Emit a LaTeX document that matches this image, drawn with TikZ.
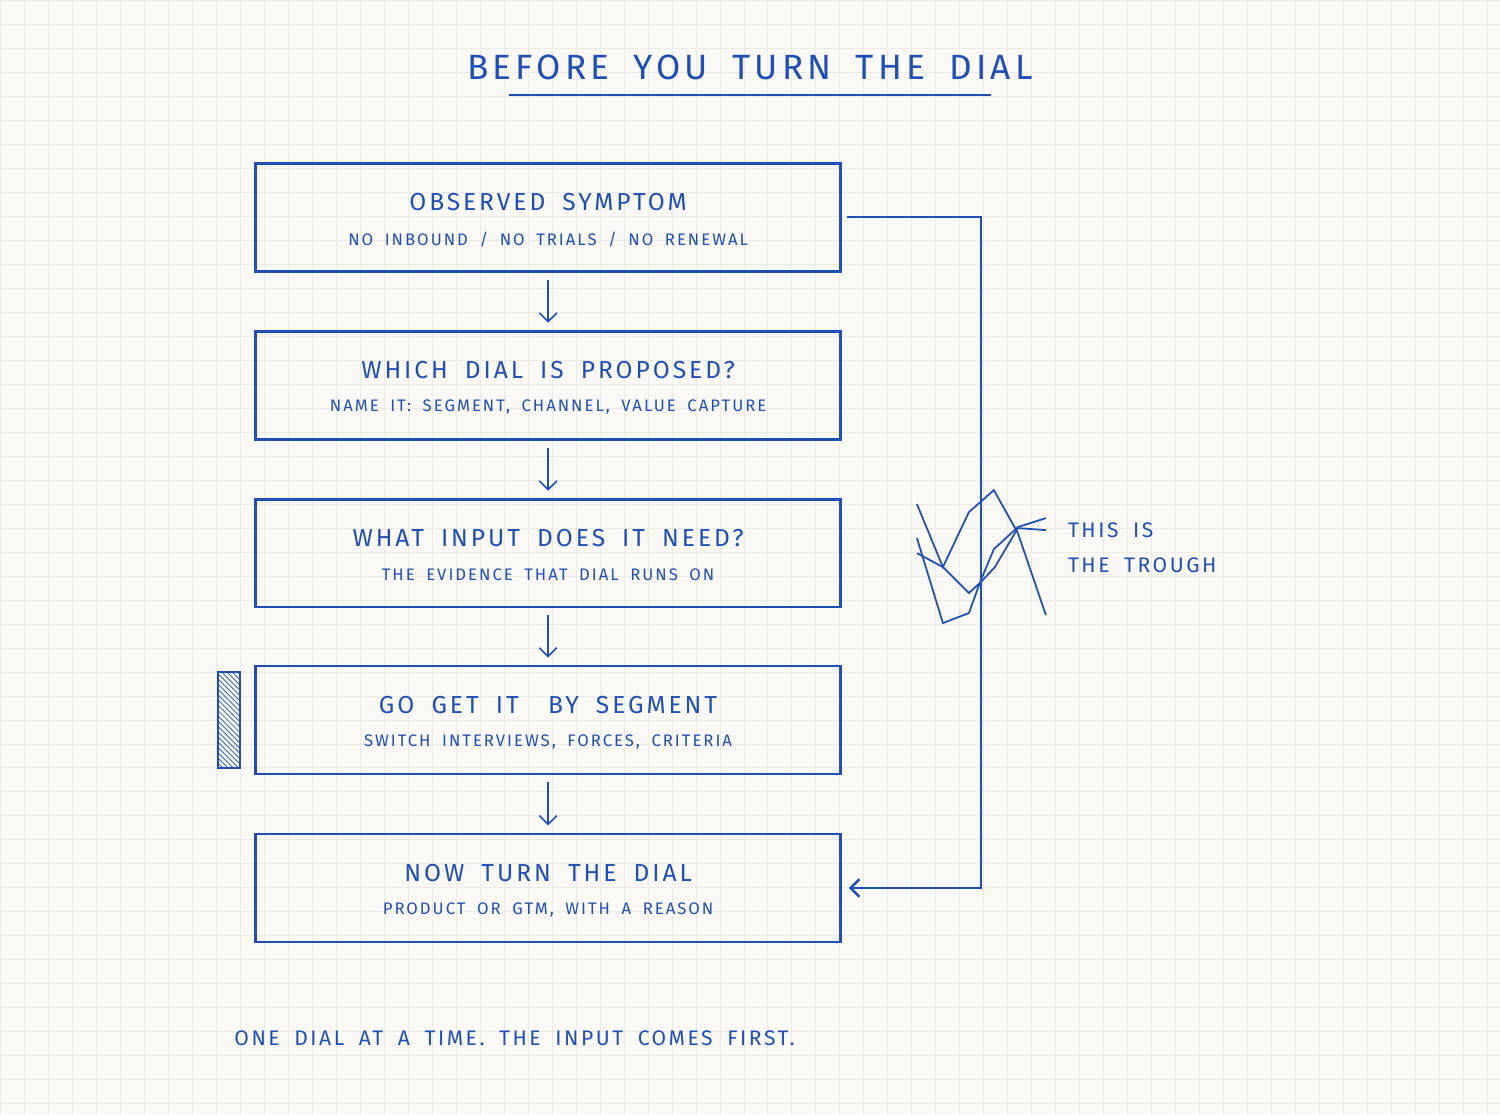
\documentclass[tikz,border=0pt]{standalone}
\usepackage{fontspec}
\setmainfont{Fira Sans}[LetterSpace=12, WordSpace=1.8]
\usetikzlibrary{patterns}
\definecolor{ink}{HTML}{1F4FB5}
\definecolor{paper}{HTML}{FAF9F5}
\definecolor{gridc}{HTML}{ECEAE4}
\tikzset{
  step box/.style={draw=ink, line width=1.6pt, minimum width=11.7cm, minimum height=2.16cm, inner sep=0pt},
  head/.style={text=ink, font=\fontsize{14}{16}\selectfont},
  sub/.style={text=ink, font=\fontsize{9.5}{11}\selectfont},
  flow/.style={draw=ink, line width=0.9pt, -{Straight Barb[length=5pt]}},
}
\usetikzlibrary{arrows.meta}
\begin{document}
\begin{tikzpicture}[x=0.02cm, y=-0.02cm]
%background
\fill[paper] (0,0) rectangle (1500,1114);
\draw[gridc, line width=0.4pt, step=0.48cm] (0,0) grid (1500,1114);
\useasboundingbox (0,0) rectangle (1500,1114);

%title
\node[text=ink, font=\fontsize{20}{24}\selectfont] (title) at (750,67) {BEFORE YOU TURN THE DIAL};
\draw[ink, line width=1.2pt] (509,95) -- (991,95);

%steps
\def\stepnode#1#2#3#4{\node[step box] (#1) at (548,#2) {};
  \node[head] at (548,#2-15) {#3};
  \node[sub] at (548,#2+22) {#4};}
\stepnode{symptom}{217}{OBSERVED SYMPTOM}{NO INBOUND / NO TRIALS / NO RENEWAL}
\stepnode{dial}{385}{WHICH DIAL IS PROPOSED?}{NAME IT: SEGMENT, CHANNEL, VALUE CAPTURE}
\stepnode{input}{553}{WHAT INPUT DOES IT NEED?}{THE EVIDENCE THAT DIAL RUNS ON}
\stepnode{getit}{720}{GO GET IT \enspace BY SEGMENT}{SWITCH INTERVIEWS, FORCES, CRITERIA}
\stepnode{turn}{888}{NOW TURN THE DIAL}{PRODUCT OR GTM, WITH A REASON}

\draw[flow] ([yshift=-4pt]symptom.south) -- ([yshift=4pt]dial.north);
\draw[flow] ([yshift=-4pt]dial.south) -- ([yshift=4pt]input.north);
\draw[flow] ([yshift=-4pt]input.south) -- ([yshift=4pt]getit.north);
\draw[flow] ([yshift=-4pt]getit.south) -- ([yshift=4pt]turn.north);

%loop back
\coordinate (back) at (981,0);
\draw[flow, line width=1.4pt] ([xshift=3pt]symptom.east) -| (back |- turn.east) -- ([xshift=4pt]turn.east);

%hatched marker
\draw[ink, line width=1.2pt, pattern=north west lines, pattern color=ink] (218,672) rectangle (240,768);

%trough scribble
\draw[ink, line width=1pt] (917,504) -- (943,567) -- (969,512) -- (994,490) -- (1018,533) -- (1046,615);
\draw[ink, line width=1pt] (917,538) -- (943,623) -- (969,613) -- (981,580) -- (994,549) -- (1018,527) -- (1046,518);
\draw[ink, line width=1pt] (917,553) -- (943,567) -- (969,593) -- (981,582) -- (995,567) -- (1018,528) -- (1046,530);
\node[sub, font=\fontsize{12}{20}\selectfont, align=left, anchor=west] (trough) at (1062,548) {THIS IS\\THE TROUGH};

%footer
\node[sub, font=\fontsize{12}{14}\selectfont, anchor=west] (foot) at (228,1038) {ONE DIAL AT A TIME. THE INPUT COMES FIRST.};
\end{tikzpicture}
\end{document}
